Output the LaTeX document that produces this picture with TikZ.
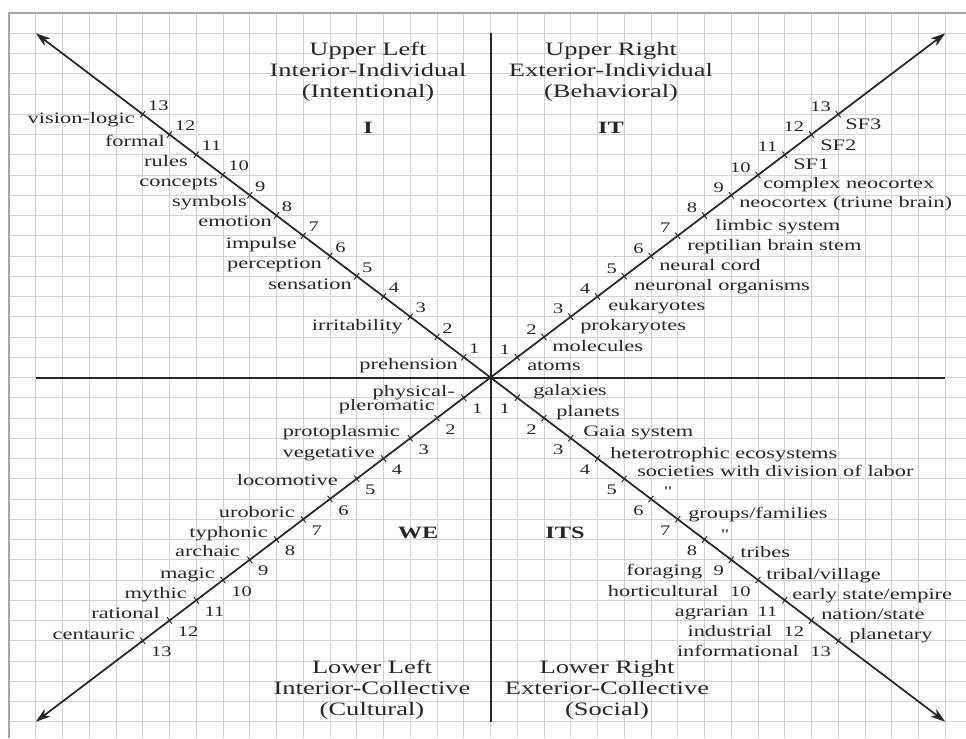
\documentclass[tikz,border=0pt]{standalone}
\usepackage{fontspec}
\setmainfont[FakeStretch=1.4]{Liberation Serif}
\newfontfamily\dittofont[FakeStretch=1.4,Ligatures=TeXOff]{Liberation Serif}
\usetikzlibrary{arrows.meta,calc}
\begin{document}
\begin{tikzpicture}[x=0.75pt,y=-0.75pt,
  gridline/.style={draw=gray!35, line width=0.55pt},
  frameline/.style={draw=gray!70, line width=1.2pt},
  axis/.style={draw=black!85, line width=1.5pt},
  diag/.style={draw=black!85, line width=1.3pt, -{Stealth[length=11pt,width=7pt,inset=3pt]}},
  tickmark/.style={draw=black!85, line width=0.7pt},
  lab/.style={inner sep=0pt, font=\fontsize{12}{14}\selectfont, text=black!85, text height=8.4pt, text depth=3pt},
  num/.style={inner sep=0pt, font=\fontsize{11}{13}\selectfont, text=black!85, text height=7.5pt, text depth=0pt},
  ttl/.style={inner sep=0pt, align=center, font=\fontsize{14.2}{16}\selectfont, text=black!85},
  quad/.style={inner sep=0pt, font=\fontsize{13}{15}\selectfont\bfseries, text=black!85},
  ditto/.style={inner sep=0pt, font=\fontsize{11}{13}\dittofont, text=black!85, text height=8.4pt, text depth=3pt}
]
\useasboundingbox (0,0) rectangle (966,738);
\fill[white] (0,0) rectangle (966,738);

% grid
\foreach \k in {-17,...,17} {
  \draw[gridline] ({490.5+\k*26.75},13) -- ({490.5+\k*26.75},738);
  \draw[gridline] (9,{377.5+\k*20.25}) -- (966,{377.5+\k*20.25});
}
% frame
\coordinate (FTR) at (966,13);
\coordinate (FTL) at (9,13);
\coordinate (FBL) at (9,738);
\draw[frameline] (FTR) -- (FTL) -- (FBL);

% centre and ends
\coordinate (O) at (490.5,377.5);
\coordinate (Vtop) at ($(O)+(0,-344.25)$);
\coordinate (Vbot) at ($(O)+(0,344.25)$);
\coordinate (Hleft) at ($(O)+(-454.75,0)$);
\coordinate (Hright) at ($(O)+(454.75,0)$);
\coordinate (ULend) at ($(O)+(-454.75,-344.25)$);
\coordinate (URend) at ($(O)+(454.75,-344.25)$);
\coordinate (LLend) at ($(O)+(-454.75,344.25)$);
\coordinate (LRend) at ($(O)+(454.75,344.25)$);

\draw[axis] (Vtop) -- (Vbot);
\draw[axis] (Hleft) -- (Hright);
\draw[diag] (O) -- (ULend);
\draw[diag] (O) -- (URend);
\draw[diag] (O) -- (LLend);
\draw[diag] (O) -- (LRend);

% ticks and numbers
\foreach \k in {1,...,13} {
  \coordinate (ul\k) at ($(O)+({-\k*26.75},{-\k*20.25})$);
  \coordinate (ur\k) at ($(O)+({\k*26.75},{-\k*20.25})$);
  \coordinate (ll\k) at ($(O)+({-\k*26.75},{\k*20.25})$);
  \coordinate (lr\k) at ($(O)+({\k*26.75},{\k*20.25})$);
  \draw[tickmark] ($(ul\k)+(2.4,-3.2)$) -- ($(ul\k)+(-2.4,3.2)$);
  \draw[tickmark] ($(ur\k)+(2.4,3.2)$) -- ($(ur\k)+(-2.4,-3.2)$);
  \draw[tickmark] ($(ll\k)+(2.4,3.2)$) -- ($(ll\k)+(-2.4,-3.2)$);
  \draw[tickmark] ($(lr\k)+(2.4,-3.2)$) -- ($(lr\k)+(-2.4,3.2)$);
  \node[num, anchor=west] (nul\k) at ($(ul\k)+(5,-9)$) {\k};
  \node[num, anchor=east] (nur\k) at ($(ur\k)+(-7,-8)$) {\k};
  \node[num, anchor=west] (nll\k) at ($(ll\k)+(8,11)$) {\k};
  \node[num, anchor=east] (nlr\k) at ($(lr\k)+(-7,11)$) {\k};
}

% titles
\node[ttl] (tUL) at (368,72) {Upper Left\\Interior-Individual\\(Intentional)};
\node[ttl] (tUR) at (611,72) {Upper Right\\Exterior-Individual\\(Behavioral)};
\node[ttl] (tLL) at (372,690) {Lower Left\\Interior-Collective\\(Cultural)};
\node[ttl] (tLR) at (607,690) {Lower Right\\Exterior-Collective\\(Social)};
\node[quad] (qI) at (368,128) {I};
\node[quad] (qIT) at (611,128) {IT};
\node[quad] (qWE) at (418,533) {WE};
\node[quad] (qITS) at (565,533) {ITS};

% upper left labels
\node[lab, anchor=east] (a13) at (135,120) {vision-logic};
\node[lab, anchor=east] (a12) at (165,143) {formal};
\node[lab, anchor=east] (a11) at (188,163) {rules};
\node[lab, anchor=east] (a10) at (218,183) {concepts};
\node[lab, anchor=east] (a9) at (247,203) {symbols};
\node[lab, anchor=east] (a8) at (272,223) {emotion};
\node[lab, anchor=east] (a7) at (297,245) {impulse};
\node[lab, anchor=east] (a6) at (322,265) {perception};
\node[lab, anchor=east] (a5) at (352,286) {sensation};
\node[lab, anchor=east] (a3) at (403,327) {irritability};
\node[lab, anchor=east] (a1) at (458,366) {prehension};

% upper right labels
\node[lab, anchor=west] (b13) at (845,126) {SF3};
\node[lab, anchor=west] (b12) at (820,147) {SF2};
\node[lab, anchor=west] (b11) at (793,166) {SF1};
\node[lab, anchor=west] (b10) at (763,185) {complex neocortex};
\node[lab, anchor=west] (b9) at (739,204) {neocortex (triune brain)};
\node[lab, anchor=west] (b8) at (715,227) {limbic system};
\node[lab, anchor=west] (b7) at (687,247) {reptilian brain stem};
\node[lab, anchor=west] (b6) at (659,267) {neural cord};
\node[lab, anchor=west] (b5) at (634,287) {neuronal organisms};
\node[lab, anchor=west] (b4) at (608,307) {eukaryotes};
\node[lab, anchor=west] (b3) at (580,327) {prokaryotes};
\node[lab, anchor=west] (b2) at (552,348) {molecules};
\node[lab, anchor=west] (b1) at (527,367) {atoms};

% lower left labels
\node[lab, anchor=east] (c1a) at (455,393) {physical-};
\node[lab, anchor=east] (c1b) at (435,407) {pleromatic};
\node[lab, anchor=east] (c3) at (400,433) {protoplasmic};
\node[lab, anchor=east] (c4) at (375,454) {vegetative};
\node[lab, anchor=east] (c5) at (338,482) {locomotive};
\node[lab, anchor=east] (c7) at (295,514) {uroboric};
\node[lab, anchor=east] (c8) at (268,534) {typhonic};
\node[lab, anchor=east] (c9) at (240,553) {archaic};
\node[lab, anchor=east] (c10) at (215,575) {magic};
\node[lab, anchor=east] (c11) at (187,595) {mythic};
\node[lab, anchor=east] (c12) at (160,615) {rational};
\node[lab, anchor=east] (c13) at (135,636) {centauric};

% lower right labels
\node[lab, anchor=west] (d1) at (533,392) {galaxies};
\node[lab, anchor=west] (d2) at (556,413) {planets};
\node[lab, anchor=west] (d3) at (583,433) {Gaia system};
\node[lab, anchor=west] (d4) at (610,455) {heterotrophic ecosystems};
\node[lab, anchor=west] (d5) at (637,473) {societies with division of labor};
\node[ditto] (d6) at (668,493) {"};
\node[lab, anchor=west] (d7) at (688,515) {groups/families};
\node[ditto] (d8) at (725,536) {"};
\node[lab, anchor=west] (d9) at (740,554) {tribes};
\node[lab, anchor=west] (d10) at (766,576) {tribal/village};
\node[lab, anchor=west] (d11) at (792,596) {early state/empire};
\node[lab, anchor=west] (d12) at (821,616) {nation/state};
\node[lab, anchor=west] (d13) at (849,636) {planetary};

\node[lab, anchor=base east] (e9) at ($(nlr9.base west)+(-11,0)$) {foraging};
\node[lab, anchor=base east] (e10) at ($(nlr10.base west)+(-11,0)$) {horticultural};
\node[lab, anchor=base east] (e11) at ($(nlr11.base west)+(-9,0)$) {agrarian};
\node[lab, anchor=base east] (e12) at ($(nlr12.base west)+(-11,0)$) {industrial};
\node[lab, anchor=base east] (e13) at ($(nlr13.base west)+(-11,0)$) {informational};
\end{tikzpicture}
\end{document}
